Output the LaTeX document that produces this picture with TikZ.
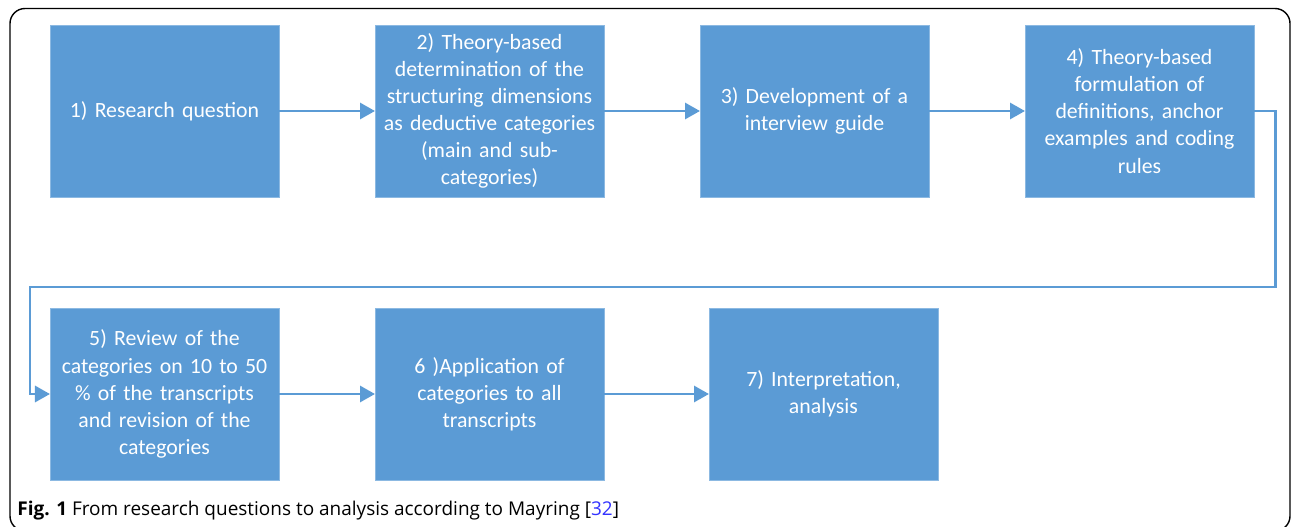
\documentclass[tikz,border=0pt]{standalone}
\usepackage{fontspec}
\setmainfont{Carlito}
\newfontfamily\captionfont{Open Sans}
\usepackage{xcolor}
\usetikzlibrary{positioning, calc, arrows.meta}
\definecolor{stepblue}{RGB}{91,155,213}
\definecolor{citeblue}{RGB}{51,51,255}

\begin{document}
\begin{tikzpicture}[
    node distance=1.92cm,
    module/.style={rectangle, fill=stepblue, draw=stepblue!70!white, line width=0.4pt, text=white, text width=4.5cm, align=center, minimum width=4.58cm, minimum height=3.44cm, inner xsep=0.04cm, outer sep=0pt, font=\fontsize{12.4}{15.4}\selectfont},
    flow/.style={draw=stepblue, line width=1.7pt, -{Triangle[length=0.3cm, width=0.32cm]}},
]
\useasboundingbox (0,0) rectangle (25.84,-10.54);
% Frame
\begin{scope}
\clip (0,0) rectangle (25.84,-10.54);
\draw[line width=0.8pt, rounded corners=0.3cm] (0.2,-0.17) rectangle (25.8,-10.62);
\end{scope}

% Top row
\node (question) [module] at (3.29,-2.22) {1) Research question};
\node (dimensions) [module, right=of question] {2) Theory-based\\determination of the\\structuring dimensions\\as deductive categories\\(main and sub-\\categories)};
\node (guide) [module, right=of dimensions] {3) Development of a\\interview guide};
\node (rules) [module, right=of guide] {4) Theory-based\\formulation of\\definitions, anchor\\examples and coding\\rules};

% Bottom row
\node (review) [module, below=2.22cm of question] {5) Review of the\\categories on 10 to 50\\\% of the transcripts\\and revision of the\\categories};
\node (application) [module, right=of review] {6 )Application of\\categories to all\\transcripts};
\node (analysis) [module, right=2.1cm of application] {7) Interpretation,\\analysis};

% Arrows
\draw [flow] (question) -- (dimensions);
\draw [flow] (dimensions) -- (guide);
\draw [flow] (guide) -- (rules);
\draw [flow] (rules.east) -- ++(0.42,0) -- ++(0,-3.52) -| ($(review.west)+(-0.4,0)$) -- (review.west);
\draw [flow] (review) -- (application);
\draw [flow] (application) -- (analysis);

% Caption
\node (caption) [anchor=west, inner sep=0pt, font=\captionfont\fontsize{10.8}{12}\selectfont] at (0.34,-10.22) {\textbf{Fig. 1} From research questions to analysis according to Mayring [\textcolor{citeblue}{32}]};
\end{tikzpicture}
\end{document}
